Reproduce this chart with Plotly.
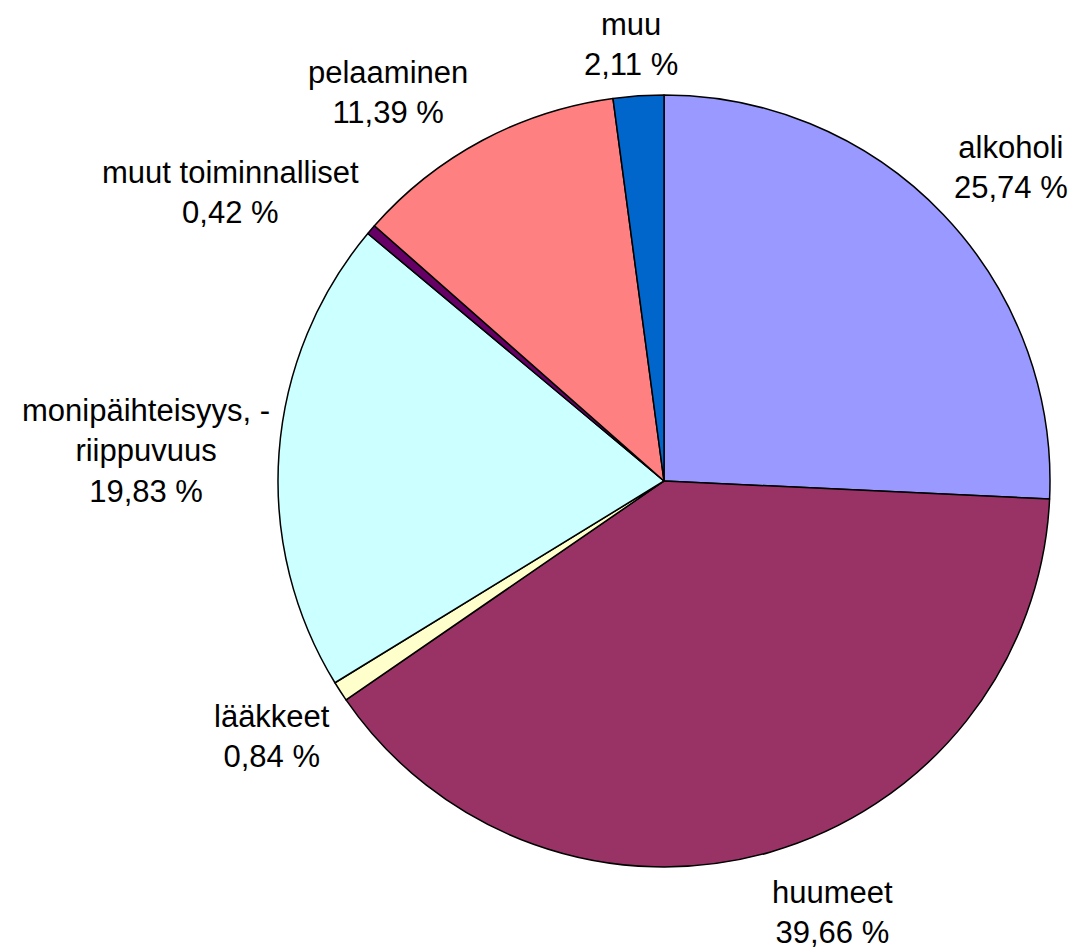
import plotly.graph_objects as go

labels = ["alkoholi", "huumeet", "lääkkeet", "monipäihteisyys, -<br>riippuvuus",
          "muut toiminnalliset", "pelaaminen", "muu"]
values = [25.74, 39.66, 0.84, 19.83, 0.42, 11.39, 2.11]
colors = ["#9999FF", "#993366", "#FFFFCC", "#CCFFFF", "#660066", "#FF8080", "#0066CC"]

# label block centres in page pixels (layout only)
label_pos = [(1011, 168), (832, 912), (272, 736), (146, 451), (230, 192), (388, 92), (631, 45)]

OFF = 8  # default page body margin
W, H = 1080 - OFF, 949 - OFF
cx, cy, r = 664 - OFF, 481 - OFF, 386

fig = go.Figure(go.Pie(
    labels=labels, values=values, sort=False, direction="clockwise", rotation=0,
    marker=dict(colors=colors, line=dict(color="black", width=1.5)),
    textinfo="none", hoverinfo="label+percent", showlegend=False,
    domain=dict(x=[(cx - r) / W, (cx + r) / W], y=[(H - cy - r) / H, (H - cy + r) / H]),
))

for lab, val, (px, py) in zip(labels, values, label_pos):
    txt = f"{lab}<br>{val:.2f}".replace(".", ",") + " %"
    fig.add_annotation(x=(px - OFF) / W, y=1 - (py - OFF) / H, xref="paper", yref="paper",
                       text=txt, showarrow=False, xanchor="center", yanchor="middle",
                       align="center", borderpad=0,
                       font=dict(size=31, color="black",
                                 family="Liberation Sans, Arial, sans-serif"))

fig.update_layout(width=W, height=H, margin=dict(l=0, r=0, t=0, b=0),
                  paper_bgcolor="white", plot_bgcolor="white")
fig.write_html("out.html")
